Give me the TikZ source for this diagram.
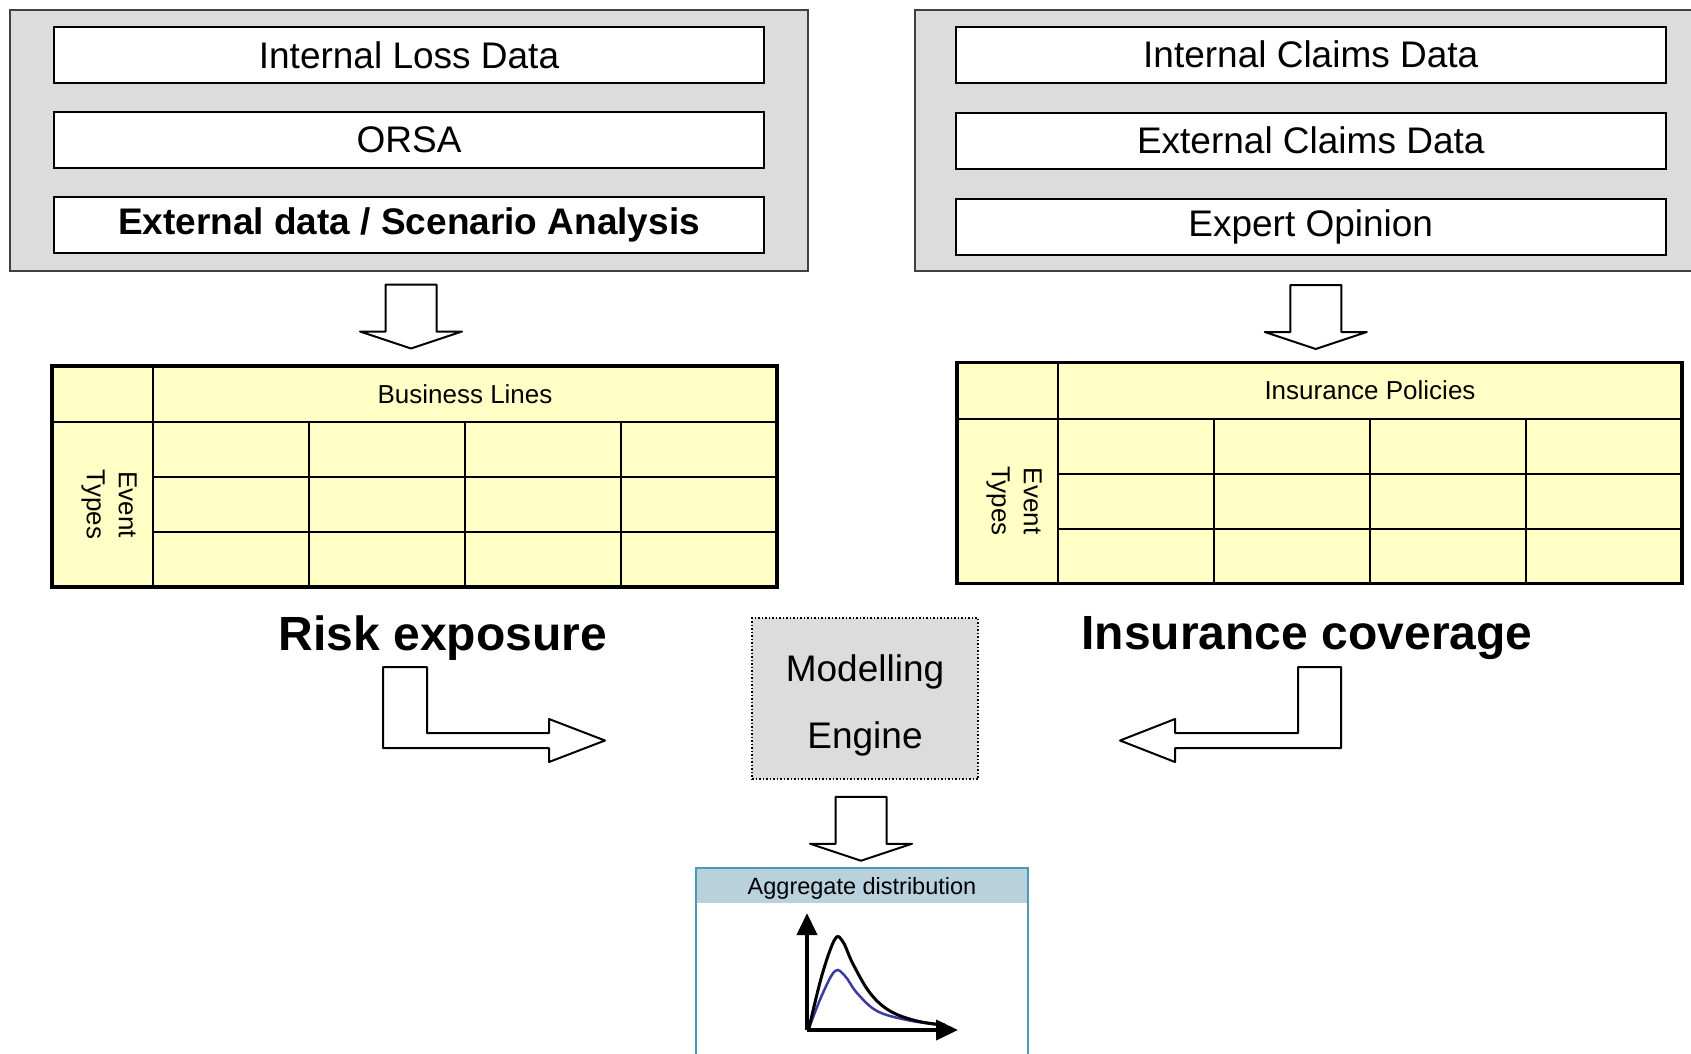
\documentclass[tikz,border=0pt]{standalone}
\usepackage{fontspec}
\setmainfont{Liberation Sans}
\usetikzlibrary{matrix,positioning,arrows.meta}
\definecolor{panelgray}{HTML}{DCDCDC}
\definecolor{cellyellow}{HTML}{FFFFC6}
\definecolor{aggblue}{HTML}{B8D1DD}
\definecolor{aggedge}{HTML}{4B9BB5}
\definecolor{curveblue}{HTML}{3A3AA0}
\tikzset{
  panel/.style={fill=panelgray, draw=black!75, line width=2pt, inner xsep=43pt, inner ysep=16.5pt},
  srcbox/.style={draw=black, fill=white, line width=2pt, minimum width=710pt, minimum height=56pt, inner sep=0pt, font=\fontsize{37}{44}\selectfont},
  cell/.style={draw=black, line width=2pt, fill=cellyellow, minimum width=156pt, minimum height=55pt, inner sep=0pt, outer sep=0pt},
  tblhead/.style={cell, minimum width=624pt, minimum height=56pt, font=\fontsize{26}{32}\selectfont},
  tblcorner/.style={cell, minimum width=101pt, minimum height=56pt},
  tblside/.style={cell, minimum width=101pt, minimum height=165pt},
  sidetext/.style={xshift=6.5pt, rotate=-90, align=center, inner sep=0pt, font=\fontsize{26}{32}\selectfont},
  caption/.style={font=\bfseries\fontsize{48}{58}\selectfont},
  engine/.style={fill=panelgray, draw=black, dotted, line width=1.5pt, minimum width=226pt, minimum height=161pt, align=center, text height=107pt, font=\fontsize{37}{67}\selectfont},
  agghead/.style={fill=aggblue, minimum width=332pt, minimum height=35pt, inner sep=0pt, text depth=0pt, font=\fontsize{23.5}{28}\selectfont},
  blockarrow/.style={draw=black, line width=2pt, fill=white, line join=round},
  downarr/.pic={\draw[blockarrow] (-25.5,0) -- (25.5,0) -- (25.5,47) -- (51,47) -- (0,64) -- (-51,47) -- (-25.5,47) -- cycle;}
}

\begin{document}
\begin{tikzpicture}[x=1pt, y=-1pt]
  \useasboundingbox (0,0) rectangle (1691,1053);

  % data sources
  \matrix (oprisk) [matrix of nodes, panel, row sep=27pt, nodes={srcbox}] at (409,140) {
    Internal Loss Data \\
    ORSA \\
    |[font=\bfseries\fontsize{37}{44}\selectfont]| External data / Scenario Analysis \\
  };
  \matrix (claims) [matrix of nodes, panel, inner xsep=40pt, inner ysep=15.5pt, row sep=28pt, nodes={srcbox}] at (1310.75,140.5) {
    Internal Claims Data \\
    External Claims Data \\
    Expert Opinion \\
  };

  \pic at ([xshift=2pt,yshift=-13pt]oprisk.south) {downarr};
  \pic at ([xshift=5pt,yshift=-13pt]claims.south) {downarr};

  % risk exposure table
  \matrix (blgrid) [matrix of nodes, nodes in empty cells, inner sep=0pt, outer sep=0pt, row sep=-2pt, column sep=-2pt, nodes={cell}] at (465,504.5) {
     & & & \\
     & & & \\
     & & & \\
  };
  \node[tblhead, anchor=south] (blhead) at (blgrid-1-1.north -| blgrid.center) {Business Lines};
  \node[tblside, anchor=east] (blside) at (blgrid-1-1.west |- blgrid.center) {};
  \node[tblcorner, anchor=east] (blcorner) at (blhead.west) {};
  \node[sidetext] (bltypes) at (blside.center) {Event\\Types};
  \draw[line width=3.5pt] (blcorner.north west) rectangle (blgrid-3-4.south east);

  % insurance coverage table
  \matrix (ipgrid) [matrix of nodes, nodes in empty cells, inner sep=0pt, outer sep=0pt, row sep=-2pt, column sep=-2pt, nodes={cell}] at (1370,501) {
     & & & \\
     & & & \\
     & & & \\
  };
  \node[tblhead, anchor=south] (iphead) at (ipgrid-1-1.north -| ipgrid.center) {Insurance Policies};
  \node[tblside, anchor=east] (ipside) at (ipgrid-1-1.west |- ipgrid.center) {};
  \node[tblcorner, anchor=east] (ipcorner) at (iphead.west) {};
  \node[sidetext] (iptypes) at (ipside.center) {Event\\Types};
  \draw[line width=3.5pt] (ipcorner.north west) rectangle (ipgrid-3-4.south east);

  \node[caption] (riskexp) at (443,638.5) {Risk exposure};
  \node[caption] (inscov) at (1307,638.5) {Insurance coverage};

  % engine
  \node[engine] (engine) at (865,698.5) {Modelling\\Engine};

  \draw[blockarrow] (383,667) -- (427,667) -- (427,733) -- (549,733) -- (549,719) -- (605,740.5)
    -- (549,762) -- (549,748) -- (383,748) -- cycle;
  \draw[blockarrow] (1341,667) -- (1298,667) -- (1298,733) -- (1175,733) -- (1175,719) -- (1120,740.5)
    -- (1175,762) -- (1175,748) -- (1341,748) -- cycle;

  \pic at ([xshift=-4pt,yshift=-17pt]engine.south) {downarr};

  % aggregate distribution
  \node[agghead] (agg) at (862,885.5) {Aggregate distribution};
  \draw[aggedge, line width=1.5pt] (agg.north west) rectangle ++(332,200);
  \coordinate (origin) at (807,1030);
  \draw[curveblue, line width=2.5pt] plot[smooth, tension=0.6] coordinates {(809,1028) (822,995) (835,971) (845,976) (857,993) (877,1011) (907,1020) (940,1025)};
  \draw[line width=3pt] plot[smooth, tension=0.6] coordinates {(809,1028) (822,975) (835,939) (843,942) (853,964) (870,993) (890,1011) (917,1021) (945,1025)};
  \draw[line width=4pt, -{Triangle[length=22pt,width=20pt]}] (origin) -- ++(0,-117);
  \draw[line width=4pt, -{Triangle[length=22pt,width=20pt]}] (origin) -- ++(151,0);
\end{tikzpicture}
\end{document}
